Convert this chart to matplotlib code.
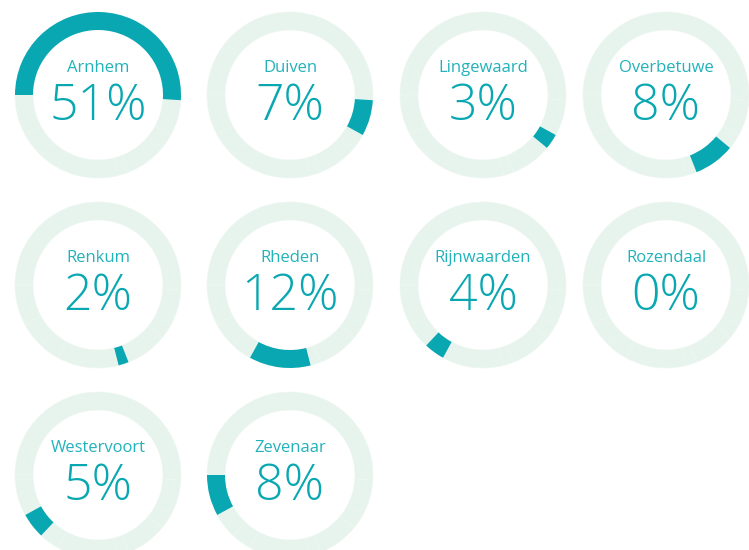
import matplotlib
matplotlib.use("Agg")
import matplotlib.pyplot as plt

gemeenten = ["Arnhem", "Duiven", "Lingewaard", "Overbetuwe", "Renkum",
             "Rheden", "Rijnwaarden", "Rozendaal", "Westervoort", "Zevenaar"]
aandeel = [51, 7, 3, 8, 2, 12, 4, 0, 5, 8]

TEAL = "#09a7b1"
LIGHT = "#e7f3ed"
LABEL = "#22b2ba"

W, H = 749, 550
col_x = [98, 290, 483, 666]
row_y = [95, 285, 475]
R, RING = 83, 18

fig = plt.figure(figsize=(W / 100, H / 100), dpi=100)
ax = fig.add_axes([0, 0, 1, 1])

for i, (name, pct) in enumerate(zip(gemeenten, aandeel)):
    cx = col_x[i % 4]
    cy = H - row_y[i // 4]
    wedges, _ = ax.pie(aandeel, center=(cx, cy), radius=R, startangle=180,
                       counterclock=False,
                       colors=[TEAL if j == i else LIGHT for j in range(len(aandeel))],
                       wedgeprops=dict(width=RING, linewidth=0.5, edgecolor="#eef7f2"))
    wedges[i].set_linewidth(0)
    wedges[i].set_zorder(3)
    ax.text(cx, cy + 27, name, ha="center", va="center", fontsize=12,
            color=LABEL, family=["Open Sans", "DejaVu Sans"])
    ax.text(cx, cy - 12, f"{pct}%", ha="center", va="center", fontsize=36,
            color=TEAL, family=["Open Sans", "DejaVu Sans"], weight=300)

ax.set_xlim(0, W)
ax.set_ylim(0, H)
ax.set_aspect("equal")
ax.axis("off")
fig.savefig("out.png", dpi=100, facecolor="white")
